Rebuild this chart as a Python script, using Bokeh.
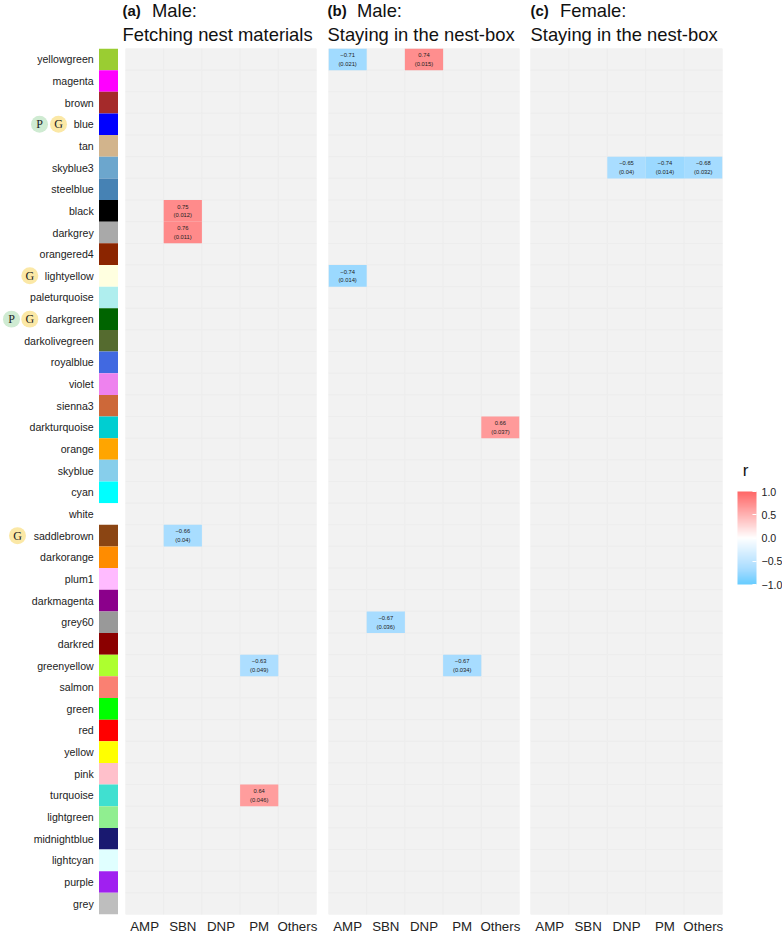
from bokeh.plotting import figure
from bokeh.layouts import row, column
from bokeh.models import (ColumnDataSource, FactorRange, Range1d, Label, ColorBar,
                          LinearColorMapper, FixedTicker)
from bokeh.core.properties import value
from bokeh.transform import transform
from bokeh.embed import file_html
from bokeh.resources import INLINE

modules = ["yellowgreen","magenta","brown","blue","tan","skyblue3","steelblue","black","darkgrey","orangered4",
           "lightyellow","paleturquoise","darkgreen","darkolivegreen","royalblue","violet","sienna3","darkturquoise","orange","skyblue",
           "cyan","white","saddlebrown","darkorange","plum1","darkmagenta","grey60","darkred","greenyellow","salmon",
           "green","red","yellow","pink","turquoise","lightgreen","midnightblue","lightcyan","purple","grey"]
swatch_colors = ["#9ACD32","#FF00FF","#A52A2A","#0000FF","#D2B48C","#6CA6CD","#4682B4","#000000","#A9A9A9","#8B2500",
                 "#FFFFE0","#AFEEEE","#006400","#556B2F","#4169E1","#EE82EE","#CD6839","#00CED1","#FFA500","#87CEEB",
                 "#00FFFF","#FFFFFF","#8B4513","#FF8C00","#FFBBFF","#8B008B","#999999","#8B0000","#ADFF2F","#FA8072",
                 "#00FF00","#FF0000","#FFFF00","#FFC0CB","#40E0D0","#90EE90","#191970","#E0FFFF","#A020F0","#BEBEBE"]
categories = ["AMP","SBN","DNP","PM","Others"]

a_mod = ["black","darkgrey","saddlebrown","greenyellow","turquoise"]
a_cat = ["SBN","SBN","SBN","PM","PM"]
a_r = [0.75,0.76,-0.66,-0.63,0.64]
a_p = ["0.012","0.011","0.04","0.049","0.046"]

b_mod = ["yellowgreen","yellowgreen","lightyellow","darkturquoise","grey60","greenyellow"]
b_cat = ["AMP","DNP","AMP","Others","SBN","PM"]
b_r = [-0.71,0.74,-0.74,0.66,-0.67,-0.67]
b_p = ["0.021","0.015","0.014","0.037","0.036","0.034"]

c_mod = ["skyblue3","skyblue3","skyblue3"]
c_cat = ["DNP","PM","Others"]
c_r = [-0.65,-0.74,-0.68]
c_p = ["0.04","0.014","0.032"]

badge_mod = ["blue","blue","lightyellow","darkgreen","darkgreen","saddlebrown"]
badge_txt = ["P","G","G","P","G","G"]
badge_x = [39,58,29.3,11,29.3,17]

legend_ticks = [-1.0, -0.5, 0.0, 0.5, 1.0]
legend_labels = ["\u22121.0", "\u22120.5", "0.0", "0.5", "1.0"]

title_tags = ["(a)", "(b)", "(c)"]
title_first = ["Male:", "Male:", "Female:"]
title_second = ["Fetching nest materials", "Staying in the nest-box", "Staying in the nest-box"]
title_x = [122, 327, 530]

FONT = "Liberation Sans"
BOTTOM, H = 20, 888
yfactors = list(reversed(modules))


def gradient(n=256):
    anchors = [(-1.0,(102,204,255)),(-0.7,(163,219,255)),(-0.5,(191,229,255)),(0.0,(255,255,255)),(1.0,(255,102,102))]
    out = []
    for i in range(n):
        t = i/(n-1)*2-1
        for (t0,c0),(t1,c1) in zip(anchors, anchors[1:]):
            if t <= t1:
                f = (t-t0)/(t1-t0)
                out.append("#%02X%02X%02X" % tuple(round(a+(b-a)*f) for a,b in zip(c0,c1)))
                break
    return out


mapper = LinearColorMapper(palette=gradient(), low=-1, high=1)


def base(width, left, right, x_range):
    p = figure(width=width, height=H, x_range=x_range, y_range=FactorRange(factors=yfactors),
               output_backend="svg", toolbar_location=None, min_border_left=left, min_border_right=right,
               min_border_top=0, min_border_bottom=BOTTOM, outline_line_color=None,
               background_fill_color=None, border_fill_color=None)
    p.grid.visible = False
    return p


# header strip with the three panel titles
head = figure(width=782, height=48, x_range=Range1d(0, 782), y_range=Range1d(48, 0), output_backend="svg",
              toolbar_location=None, min_border=0, outline_line_color=None,
              background_fill_color=None, border_fill_color=None)
head.xaxis.visible = False
head.yaxis.visible = False
head.grid.visible = False
head.text(title_x, [10]*3, text=title_tags, text_baseline="middle", text_font=value(FONT),
          text_font_size="15px", text_font_style="bold", text_color="#111111")
head.text([x+29.5 for x in title_x], [10]*3, text=title_first, text_baseline="middle", text_font=value(FONT),
          text_font_size="18.4px", text_color="#111111")
head.text(title_x, [34]*3, text=title_second, text_baseline="middle", text_font=value(FONT),
          text_font_size="18.4px", text_color="#111111")

# swatches, labels, badges
f0 = base(118, 0, 0, Range1d(0, 118))
f0.xaxis.visible = False
f0.yaxis.visible = False
f0.rect(x=108.25, y=modules, width=19.5, height=1, fill_color=swatch_colors, line_color=None)
f0.text(x=93.2, y=modules, text=modules, text_align="right", text_baseline="middle",
        text_font=value(FONT), text_font_size="10.6px", text_color="#222222")
badge_col = ["#CFEBD2" if t == "P" else "#FBE8A6" for t in badge_txt]
f0.scatter(badge_x, badge_mod, size=17, fill_color=badge_col, line_color=None)
f0.text(badge_x, badge_mod, text=badge_txt, text_align="center", text_baseline="middle",
        text_font=value("Liberation Serif"), text_font_size="12px", text_color="#222222")


def panel(width, left, right, mod, cat, r, pv):
    p = base(width, left, right, FactorRange(factors=categories))
    p.yaxis.visible = False
    ax = p.xaxis[0]
    ax.axis_line_color = None
    ax.major_tick_line_color = None
    ax.minor_tick_line_color = None
    ax.major_tick_out = 0
    ax.major_tick_in = 0
    ax.major_label_standoff = 4
    ax.major_label_text_font = FONT
    ax.major_label_text_font_size = "13.3px"
    ax.major_label_text_color = "#222222"
    gx = [c for m in modules for c in categories]
    gy = [m for m in modules for c in categories]
    p.rect(gx, gy, width=1, height=1, fill_color="#F2F2F2", line_color="#EDEDED", line_width=1)
    src = ColumnDataSource(dict(x=cat, y=mod, r=r,
                                t1=[f"{v:.2f}".replace("-", "\u2212") for v in r],
                                t2=[f"({s})" for s in pv]))
    p.rect("x", "y", width=1, height=1, source=src, line_color=None,
           fill_color=transform("r", mapper))
    for col, off in (("t1", -4.3), ("t2", 4.3)):
        p.text("x", "y", text=col, source=src, y_offset=off, text_align="center", text_baseline="middle",
               text_font=value(FONT), text_font_size="5.8px", text_color="#222222")
    return p


fa = panel(204, 7, 6, a_mod, a_cat, a_r, a_p)
fb = panel(203, 6, 6, b_mod, b_cat, b_r, b_p)
fc = panel(201, 5, 4, c_mod, c_cat, c_r, c_p)

# colour legend
f4 = figure(width=56, height=H, x_range=Range1d(0, 1), y_range=Range1d(0, 1), output_backend="svg",
            toolbar_location=None, min_border=0, outline_line_color=None, border_fill_color=None,
            background_fill_color=None)
f4.xaxis.visible = False
f4.yaxis.visible = False
f4.grid.visible = False
cb = ColorBar(color_mapper=mapper, width=19, height=93, location=(11, 330),
              ticker=FixedTicker(ticks=legend_ticks),
              major_label_overrides=dict(zip(legend_ticks, legend_labels)),
              major_label_text_font=FONT, major_label_text_font_size="10.6px", major_label_text_color="#222222",
              label_standoff=5, major_tick_line_color="#FFFFFF", major_tick_in=4, major_tick_out=0,
              bar_line_color=None, background_fill_color=None, border_line_color=None, padding=0)
f4.add_layout(cb)
f4.add_layout(Label(x=19, y=422, x_units="canvas", y_units="canvas", text="r", text_font=FONT,
                    text_font_size="17px", text_align="center", text_baseline="middle", text_color="#111111"))

page = column(head, row(f0, fa, fb, fc, f4, spacing=0), spacing=0)
open("out.html", "w").write(file_html(page, INLINE))
